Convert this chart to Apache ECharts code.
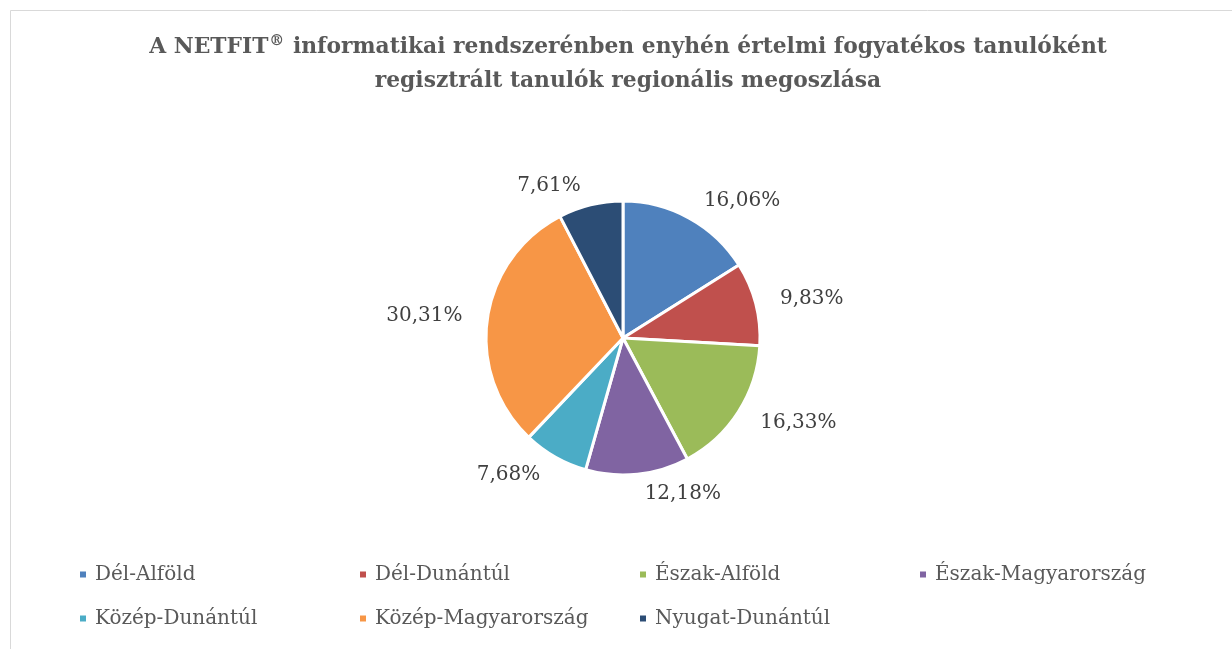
<!DOCTYPE html>
<html>
<head>
<meta charset="utf-8">
<script src="https://cdn.jsdelivr.net/npm/echarts@6/dist/echarts.min.js"></script>
<style>
  html, body { margin: 0; padding: 0; background: #fff; }
  #main { width: 1232px; height: 649px; }
</style>
</head>
<body>
<div id="main"></div>
<script>
// regiók és arányok (%)
var regions = ['Dél-Alföld', 'Dél-Dunántúl', 'Észak-Alföld', 'Észak-Magyarország', 'Közép-Dunántúl', 'Közép-Magyarország', 'Nyugat-Dunántúl'];
var shares = [16.06, 9.83, 16.33, 12.18, 7.68, 30.31, 7.61];
var colors = ['#4F81BD', '#C0504D', '#9BBB59', '#8064A2', '#4BACC6', '#F79646', '#2C4D75'];

var serif = '"DejaVu Serif", "Liberation Serif", serif';

var data = [];
for (var i = 0; i < regions.length; i++) {
  data.push({ name: regions[i], value: shares[i] });
}

var myChart = echarts.init(document.getElementById('main'));
var option = {
  backgroundColor: '#fff',
  animation: false,
  color: colors,
  title: {
    text: '{t|A NETFIT}{sup|®}{t| informatikai rendszerénben enyhén értelmi fogyatékos tanulóként}\n{t|regisztrált tanulók regionális megoszlása}',
    left: 623,
    top: 25,
    textAlign: 'center',
    textStyle: {
      fontFamily: serif,
      fontWeight: 'bold',
      fontSize: 21.8,
      lineHeight: 34,
      color: '#595959',
      rich: {
        t: {
          fontFamily: serif,
          fontWeight: 'bold',
          fontSize: 21.8,
          lineHeight: 34,
          color: '#595959'
        },
        sup: {
          fontFamily: serif,
          fontWeight: 'bold',
          fontSize: 15,
          lineHeight: 34,
          color: '#595959',
          padding: [0, 1, 12, 1]
        }
      }
    }
  },
  graphic: [{
    type: 'rect',
    shape: { x: 10.5, y: 10.5, width: 1240, height: 660 },
    style: { fill: 'none', stroke: '#d9d9d9', lineWidth: 1 },
    silent: true
  }],
  legend: {
    left: 78,
    top: 564,
    width: 1140,
    padding: 0,
    itemWidth: 8,
    itemHeight: 8,
    itemGap: 23,
    icon: 'rect',
    textStyle: {
      fontFamily: serif,
      fontSize: 20,
      color: '#595959',
      width: 240,
      lineHeight: 21,
      padding: [0, 0, 0, 3]
    },
    data: regions
  },
  series: [{
    type: 'pie',
    center: [623, 338],
    radius: 137,
    startAngle: 90,
    clockwise: true,
    avoidLabelOverlap: false,
    itemStyle: { borderColor: '#fff', borderWidth: 3 },
    label: {
      show: true,
      position: 'outside',
      fontFamily: serif,
      fontSize: 20,
      color: '#404040',
      formatter: function(p) {
        return p.value.toFixed(2).replace('.', ',') + '%';
      }
    },
    labelLine: { show: false, length: 20, length2: 0 },
    emphasis: { disabled: true },
    data: data
  }]
};
myChart.setOption(option);
</script>
</body>
</html>
